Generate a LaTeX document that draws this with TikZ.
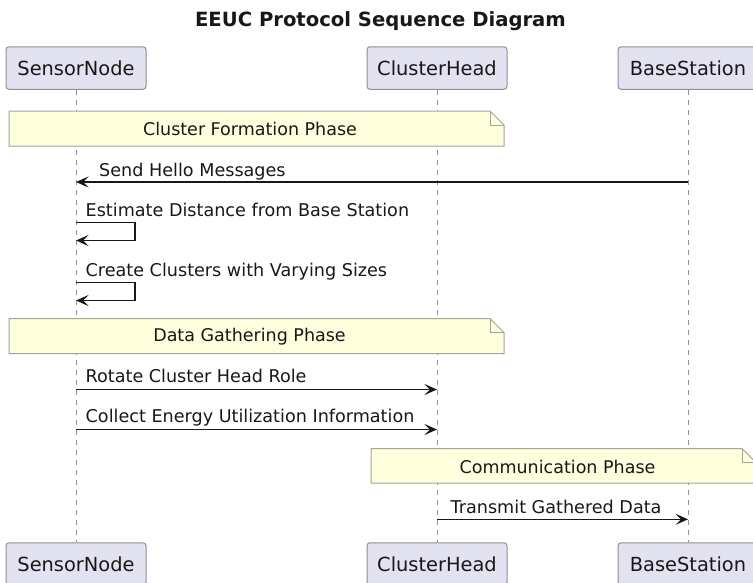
\documentclass[tikz,border=0pt]{standalone}
\usepackage{fontspec}
\setmainfont{DejaVu Sans}
\usetikzlibrary{arrows.meta}
\definecolor{partfill}{HTML}{E2E2F0}
\definecolor{partline}{HTML}{8E8E9A}
\definecolor{notefill}{HTML}{FEFFDD}
\definecolor{noteline}{HTML}{A4A498}
\definecolor{ink}{HTML}{181818}
\definecolor{lifecol}{HTML}{909090}

\begin{document}
\begin{tikzpicture}[x=1pt,y=-1pt,
  participant/.style={draw=partline, fill=partfill, rounded corners=3pt, line width=1pt,
    minimum height=42.5pt, minimum width=140pt, inner sep=0pt,
    font=\fontsize{19.4}{22}\selectfont, text=ink},
  lifeline/.style={draw=lifecol, line width=0.9pt, dash pattern=on 5pt off 5pt},
  msg/.style={draw=ink, line width=1.3pt, line join=miter,
    -{Stealth[length=12.5pt,width=11pt,inset=5.5pt]}},
  msglabel/.style={anchor=base west, inner sep=0pt, font=\fontsize{17.6}{20}\selectfont, text=ink},
  notebody/.style={draw=noteline, fill=notefill, line width=1pt},
  notelabel/.style={anchor=base, inner sep=0pt, font=\fontsize{17.5}{20}\selectfont, text=ink},
]
\useasboundingbox (0,0) rectangle (753,582);
\clip (0,0) rectangle (753,582);

% title
\node[anchor=base, inner sep=0pt, font=\bfseries\fontsize{19.6}{22}\selectfont, text=ink]
  (title) at (380.5,26.7) {EEUC Protocol Sequence Diagram};

% participants, top and bottom
\node[participant] (sn)  at (76,68)   {SensorNode};
\node[participant] (ch)  at (437,68)  {ClusterHead};
\node[participant] (bs)  at (688,68)  {BaseStation};
\node[participant] (snb) at (76,564)  {SensorNode};
\node[participant] (chb) at (437,564) {ClusterHead};
\node[participant] (bsb) at (688,564) {BaseStation};

% lifelines
\draw[lifeline] (sn.south) -- (snb.north);
\draw[lifeline] (ch.south) -- (chb.north);
\draw[lifeline] (bs.south) -- (bsb.north);

% phase notes
\path[notebody] (9,111) -- (490,111) -- (504,125) -- (504,146) -- (9,146) -- cycle;
\draw[noteline, line width=1pt] (490,111) -- (490,125) -- (504,125);
\node[notelabel] (noteA) at (250,135) {Cluster Formation Phase};

\path[notebody] (9,318.5) -- (490,318.5) -- (504,332.5) -- (504,353.5) -- (9,353.5) -- cycle;
\draw[noteline, line width=1pt] (490,318.5) -- (490,332.5) -- (504,332.5);
\node[notelabel] (noteB) at (249.5,341.7) {Data Gathering Phase};

\path[notebody] (371,448.5) -- (742,448.5) -- (756,462.5) -- (756,483) -- (371,483) -- cycle;
\draw[noteline, line width=1pt] (742,448.5) -- (742,462.5) -- (756,462.5);
\node[notelabel] (noteC) at (557.5,473.3) {Communication Phase};

% message end points on the lifelines
\coordinate (helloBS) at (688,182);
\coordinate (helloSN) at (76,182);
\coordinate (estA) at (76,222.3);
\coordinate (estB) at (76,240.5);
\coordinate (creA) at (76,282.3);
\coordinate (creB) at (76,300.5);
\coordinate (rotSN) at (76,389.5);
\coordinate (rotCH) at (437,389.5);
\coordinate (colSN) at (76,429.5);
\coordinate (colCH) at (437,429.5);
\coordinate (txCH) at (437,519.3);
\coordinate (txBS) at (688,519.3);

% messages
\draw[msg] (helloBS) -- (helloSN);
\node[msglabel] (lHello) at (99,176.5) {Send Hello Messages};

\draw[msg] (estA) -- ++(59,0) -- ++(0,18.2) -- (estB);
\node[msglabel] (lEst) at (85.5,216.7) {Estimate Distance from Base Station};

\draw[msg] (creA) -- ++(59,0) -- ++(0,18.2) -- (creB);
\node[msglabel] (lCre) at (85.5,276) {Create Clusters with Varying Sizes};

\draw[msg] (rotSN) -- (rotCH);
\node[msglabel] (lRot) at (85.5,382.3) {Rotate Cluster Head Role};

\draw[msg] (colSN) -- (colCH);
\node[msglabel] (lCol) at (85.5,422.3) {Collect Energy Utilization Information};

\draw[msg] (txCH) -- (txBS);
\node[msglabel] (lTx) at (450.5,513.3) {Transmit Gathered Data};
\end{tikzpicture}
\end{document}
